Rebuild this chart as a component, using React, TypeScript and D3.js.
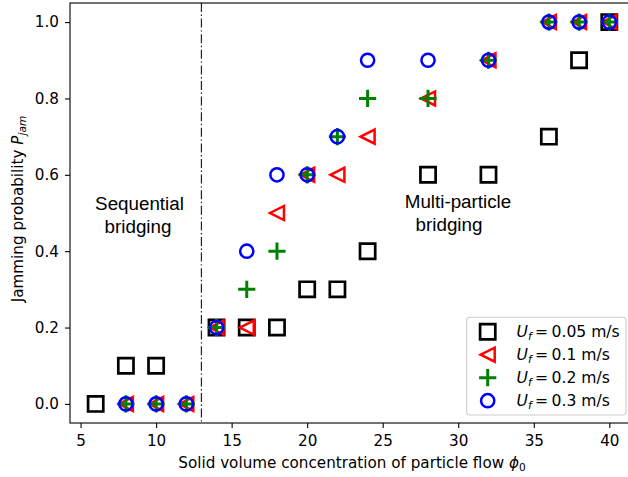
import React, { useEffect, useRef } from 'react'
import * as d3 from 'd3'

// concentration values (x) for each flow speed
const phi = [6, 8, 10, 12, 14, 16, 18, 20, 22, 24, 28, 32, 36, 38, 40]

// jamming probability per series (null = not measured)
const p005 = [0, 0.1, 0.1, null, 0.2, 0.2, 0.2, 0.3, 0.3, 0.4, 0.6, 0.6, 0.7, 0.9, 1.0]
const p01 = [null, 0, 0, 0, 0.2, 0.2, 0.5, 0.6, 0.6, 0.7, 0.8, 0.9, 1.0, 1.0, 1.0]
const p02 = [null, 0, 0, 0, 0.2, 0.3, 0.4, 0.6, 0.7, 0.8, 0.8, 0.9, 1.0, 1.0, 1.0]
const p03 = [null, 0, 0, 0, 0.2, 0.4, 0.6, 0.6, 0.7, 0.9, 0.9, 0.9, 1.0, 1.0, 1.0]

const xTicks = [5, 10, 15, 20, 25, 30, 35, 40]
const yTicks = [0, 0.2, 0.4, 0.6, 0.8, 1.0]
const boundary = 13

const series = [
  { key: '0.05', values: p005, color: '#000000', marker: 'square' },
  { key: '0.1', values: p01, color: '#ff0000', marker: 'triangle' },
  { key: '0.2', values: p02, color: '#008000', marker: 'plus' },
  { key: '0.3', values: p03, color: '#0000ff', marker: 'circle' },
]

const FONT = 'DejaVu Sans'
const FS = 15.2

function markerPath(type: string, cx: number, cy: number) {
  const p = d3.path()
  if (type === 'square') {
    const h = 7.6
    p.rect(cx - h, cy - h, 2 * h, 2 * h)
  } else if (type === 'triangle') {
    const h = 7
    p.moveTo(cx - h, cy)
    p.lineTo(cx + h, cy - h)
    p.lineTo(cx + h, cy + h)
    p.closePath()
  } else if (type === 'plus') {
    const h = 8.6
    p.moveTo(cx - h, cy)
    p.lineTo(cx + h, cy)
    p.moveTo(cx, cy - h)
    p.lineTo(cx, cy + h)
  } else {
    p.moveTo(cx + 6.6, cy)
    p.arc(cx, cy, 6.6, 0, Math.PI * 2)
  }
  return p.toString()
}

function strokeWidth(type: string) {
  if (type === 'square') return 2.7
  if (type === 'plus') return 3
  return 2.5
}

function App() {
  const ref = useRef<SVGSVGElement>(null)

  useEffect(() => {
    const margin = { left: 70, top: 3, right: 635, bottom: 423 }
    const x = d3.scaleLinear().domain([4.3, 41.7]).range([margin.left, margin.right])
    const y = d3.scaleLinear().domain([-0.05, 1.05]).range([margin.bottom, margin.top])

    const svg = d3.select(ref.current)
    svg.selectAll('*').remove()

    svg.append('rect').attr('width', 628).attr('height', 477).attr('fill', '#fff')

    // boundary between the two regimes
    svg.append('line')
      .attr('x1', x(boundary)).attr('x2', x(boundary))
      .attr('y1', margin.top).attr('y2', margin.bottom)
      .attr('stroke', '#222').attr('stroke-width', 1.2)
      .attr('stroke-dasharray', '9,2.6,1.4,2.6')

    // marks
    series.forEach(s => {
      const g = svg.append('g')
      phi.forEach((v, i) => {
        const val = s.values[i]
        if (val === null) return
        g.append('path')
          .attr('d', markerPath(s.marker, x(v), y(val)))
          .attr('fill', 'none')
          .attr('stroke', s.color)
          .attr('stroke-width', strokeWidth(s.marker))
      })
    })

    // axes
    const xAxis = d3.axisBottom(x).tickValues(xTicks).tickSize(5).tickPadding(7).tickFormat(d3.format('d'))
    const gx = svg.append('g').attr('transform', `translate(0, ${margin.bottom})`).call(xAxis)
    const yAxis = d3.axisLeft(y).tickValues(yTicks).tickSize(5).tickPadding(6).tickFormat(d3.format('.1f'))
    const gy = svg.append('g').attr('transform', `translate(${margin.left}, 0)`).call(yAxis)
    ;[gx, gy].forEach(g => {
      g.select('.domain').remove()
      g.attr('font-family', FONT).attr('font-size', FS)
      g.selectAll('line').attr('stroke', '#000').attr('stroke-width', 1.1)
      g.selectAll('text').attr('fill', '#000')
    })

    svg.append('rect')
      .attr('x', margin.left).attr('y', margin.top)
      .attr('width', margin.right - margin.left).attr('height', margin.bottom - margin.top)
      .attr('fill', 'none').attr('stroke', '#000').attr('stroke-width', 1.1)

    // axis labels
    const xl = svg.append('text')
      .attr('x', 352).attr('y', 468)
      .attr('text-anchor', 'middle')
      .attr('font-family', FONT).attr('font-size', FS)
    xl.append('tspan').text('Solid volume concentration of particle flow ')
    xl.append('tspan').attr('font-style', 'italic').text('ϕ')
    xl.append('tspan').attr('font-size', 10.6).attr('dy', 3).text('0')

    const yl = svg.append('text')
      .attr('transform', `translate(23, 209) rotate(-90)`)
      .attr('text-anchor', 'middle')
      .attr('font-family', FONT).attr('font-size', FS)
    yl.append('tspan').text('Jamming probability ')
    yl.append('tspan').attr('font-style', 'italic').text('P')
    yl.append('tspan').attr('font-style', 'italic').attr('font-size', 10.6).attr('dy', 3).text('jam')

    // regime annotations
    const notes = [
      { lines: ['Sequential', 'bridging'], cx: [139.5, 138], cy: 205 },
      { lines: ['Multi-particle', 'bridging'], cx: [458, 449], cy: 203 },
    ]
    notes.forEach(n => {
      n.lines.forEach((t, i) => {
        svg.append('text')
          .attr('x', n.cx[i]).attr('y', n.cy + i * 23.3)
          .attr('text-anchor', 'middle').attr('dominant-baseline', 'middle')
          .attr('font-family', 'Liberation Sans').attr('font-size', 18.8)
          .text(t)
      })
    })

    // legend
    const lg = svg.append('g')
    lg.append('rect')
      .attr('x', 466.7).attr('y', 317.3).attr('width', 159.3).attr('height', 97.7)
      .attr('rx', 3.5).attr('fill', '#fff').attr('fill-opacity', 0.8)
      .attr('stroke', '#cccccc').attr('stroke-width', 1.1)
    series.forEach((s, i) => {
      const cy = 331.7 + i * 23
      lg.append('path')
        .attr('d', markerPath(s.marker, 487.7, cy))
        .attr('fill', 'none').attr('stroke', s.color)
        .attr('stroke-width', strokeWidth(s.marker))
      const t = lg.append('text')
        .attr('x', 516.5).attr('y', cy + 5.6)
        .attr('font-family', FONT).attr('font-size', 15.6)
      t.append('tspan').attr('font-style', 'italic').text('U')
      t.append('tspan').attr('font-style', 'italic').attr('font-size', 10.9).attr('dy', 3).text('f')
      t.append('tspan').attr('dy', -3).attr('x', 535).text('=')
      t.append('tspan').attr('x', 551.5).text(s.key + ' m/s')
    })
  }, [])

  return (
    <div style={{ position: 'absolute', left: 0, top: 0 }}>
      <svg ref={ref} width={628} height={477} style={{ display: 'block' }} />
    </div>
  )
}

export default App
